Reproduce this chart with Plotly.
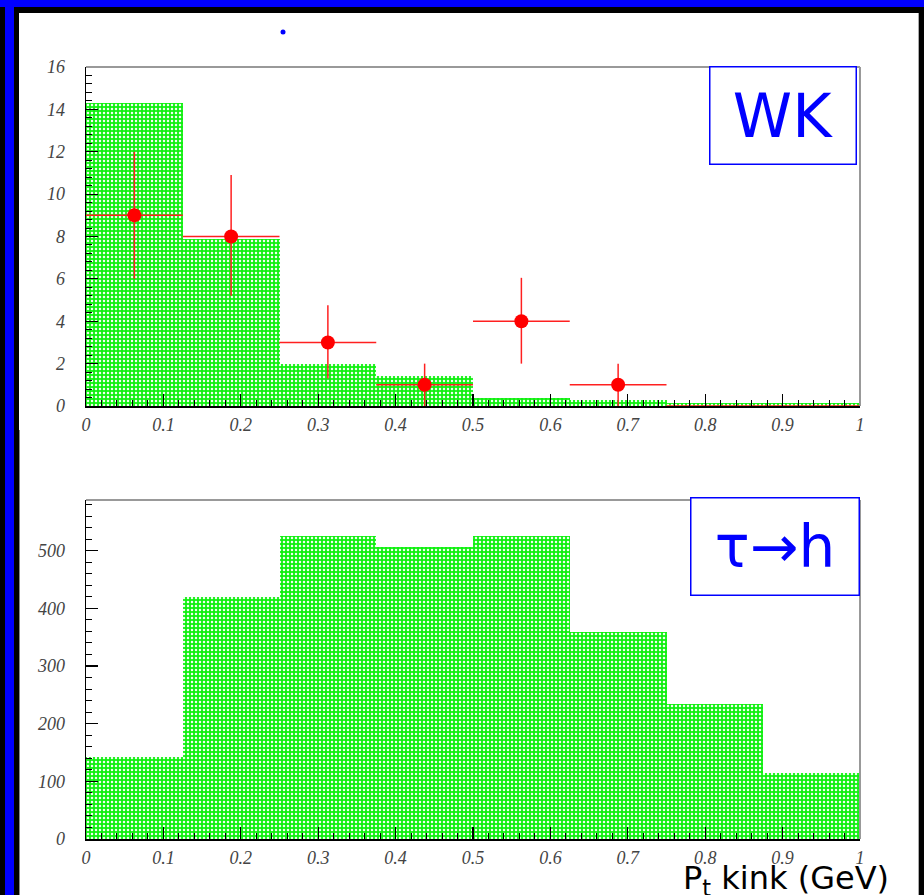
import plotly.graph_objects as go

W, H = 924, 895

# ---------------- data ----------------
bin_centers = [0.0625, 0.1875, 0.3125, 0.4375, 0.5625, 0.6875, 0.8125, 0.9375]
bin_width = 0.125

wk_mc = [14.3, 7.9, 2.0, 1.4, 0.4, 0.3, 0.15, 0.15]
wk_data = [9, 8, 3, 1, 4, 1, 0, 0]
wk_err_up = [3.0, 2.9, 1.75, 1.0, 2.05, 1.0, 0, 0]
wk_err_dn = [3.0, 2.8, 1.7, 1.0, 2.0, 1.0, 0, 0]
wk_marker = [14, 14, 14, 14, 14, 14, 0, 0]

tauh_mc = [143, 419, 526, 506, 526, 359, 234, 114]

x_ticks = [0, 0.1, 0.2, 0.3, 0.4, 0.5, 0.6, 0.7, 0.8, 0.9, 1]
x_tick_text = ["0", "0.1", "0.2", "0.3", "0.4", "0.5", "0.6", "0.7", "0.8", "0.9", "1"]
top_y_ticks = [0, 2, 4, 6, 8, 10, 12, 14, 16]
bot_y_ticks = [0, 100, 200, 300, 400, 500]

GREEN = "#10f010"


def px(x):
    return x / W


def py(y):
    return 1 - y / H


fig = go.Figure()

pattern = dict(shape=".", fgcolor="#f0fff0", bgcolor=GREEN, size=4, solidity=0.3)

fig.add_trace(go.Bar(x=bin_centers, y=wk_mc, width=[bin_width] * 8,
                     marker=dict(color=GREEN, line=dict(width=0), pattern=pattern),
                     xaxis="x", yaxis="y", showlegend=False))
fig.add_trace(go.Scatter(x=bin_centers, y=wk_data, mode="markers", opacity=1,
                         marker=dict(color="#ff0000", size=wk_marker, opacity=1, line=dict(width=0)),
                         error_y=dict(type="data", array=wk_err_up, arrayminus=wk_err_dn,
                                      color="#ff2020", thickness=1.5, width=0),
                         error_x=dict(type="constant", value=bin_width / 2,
                                      color="#ff2020", thickness=1.5, width=0),
                         xaxis="x", yaxis="y", showlegend=False, cliponaxis=False))
fig.add_trace(go.Bar(x=bin_centers, y=tauh_mc, width=[bin_width] * 8,
                     marker=dict(color=GREEN, line=dict(width=0), pattern=pattern),
                     xaxis="x2", yaxis="y2", showlegend=False))

xdom = [px(86), px(860)]
tickfont = dict(family="Liberation Serif", size=18, color="#444444", style="italic")

common_x = dict(range=[0, 1], domain=xdom, tickmode="array", tickvals=x_ticks, ticktext=x_tick_text,
                ticks="inside", ticklen=12, tickwidth=1.2, tickcolor="black",
                minor=dict(ticks="inside", ticklen=6, dtick=0.02, tickcolor="black", tickwidth=1),
                showline=True, linecolor="black", linewidth=1.5, showgrid=False, zeroline=False,
                tickfont=tickfont, ticklabelstandoff=2, fixedrange=True, automargin=False)

fig.update_layout(
    template="none",
    width=W, height=H, autosize=False,
    margin=dict(l=0, r=0, t=0, b=0, pad=0),
    paper_bgcolor="black", plot_bgcolor="white",
    bargap=0,
    xaxis=dict(common_x, anchor="y"),
    yaxis=dict(range=[0, 16], domain=[py(406), py(67)], anchor="x",
               tickmode="array", tickvals=top_y_ticks,
               ticks="inside", ticklen=12, tickwidth=1.2, tickcolor="black",
               minor=dict(ticks="inside", ticklen=6, dtick=0.4, tickcolor="black", tickwidth=1),
               showline=True, linecolor="black", linewidth=1.5, showgrid=False, zeroline=False,
               tickfont=tickfont, ticklabelstandoff=16, fixedrange=True, automargin=False),
    xaxis2=dict(common_x, anchor="y2"),
    yaxis2=dict(range=[0, 588], domain=[py(839), py(500)], anchor="x2",
                tickmode="array", tickvals=bot_y_ticks,
                ticks="inside", ticklen=12, tickwidth=1.2, tickcolor="black",
                minor=dict(ticks="inside", ticklen=6, dtick=20, tickcolor="black", tickwidth=1),
                showline=True, linecolor="black", linewidth=1.5, showgrid=False, zeroline=False,
                tickfont=tickfont, ticklabelstandoff=16, fixedrange=True, automargin=False),
)

shapes = [
    # white page
    dict(type="rect", xref="paper", yref="paper", x0=px(19), x1=px(919), y0=py(13), y1=-0.01,
         fillcolor="white", line=dict(width=0), layer="below"),
    # blue bands
    dict(type="rect", xref="paper", yref="paper", x0=0, x1=1, y0=py(7), y1=1,
         fillcolor="#0000ff", line=dict(width=0), layer="below"),
    dict(type="rect", xref="paper", yref="paper", x0=px(5), x1=px(14), y0=-0.01, y1=1,
         fillcolor="#0000ff", line=dict(width=0), layer="below"),
    # gray page edges
    dict(type="line", xref="paper", yref="paper", x0=px(19.5), x1=px(19.5), y0=py(430), y1=-0.01,
         line=dict(color="#888888", width=1)),
    dict(type="line", xref="paper", yref="paper", x0=px(918.5), x1=px(918.5), y0=py(13), y1=-0.01,
         line=dict(color="#aaaaaa", width=1)),
    # frames (top/right gray)
    dict(type="line", xref="x domain", yref="y domain", x0=0, x1=1, y0=1, y1=1,
         line=dict(color="#999999", width=2)),
    dict(type="line", xref="x domain", yref="y domain", x0=1, x1=1, y0=0, y1=1,
         line=dict(color="#999999", width=2)),
    dict(type="line", xref="x2 domain", yref="y2 domain", x0=0, x1=1, y0=1, y1=1,
         line=dict(color="#999999", width=2)),
    dict(type="line", xref="x2 domain", yref="y2 domain", x0=1, x1=1, y0=0, y1=1,
         line=dict(color="#999999", width=2)),
    # small blue dot
    dict(type="circle", xref="paper", yref="paper", x0=px(280.5), x1=px(285.5), y0=py(34.5), y1=py(29.5),
         fillcolor="#0000ff", line=dict(width=0)),
]
fig.update_layout(shapes=shapes)

annotations = [
    dict(text="WK", xref="paper", yref="paper", x=px(857), y=py(66), xanchor="right", yanchor="top",
         showarrow=False, font=dict(family="DejaVu Sans", size=60, color="#0000ff"),
         bgcolor="white", bordercolor="#0000ff", borderwidth=1.5, borderpad=0,
         width=145, height=96, align="center", valign="middle"),
    dict(text="τ→h", xref="paper", yref="paper", x=px(860), y=py(497), xanchor="right", yanchor="top",
         showarrow=False, font=dict(family="DejaVu Sans", size=58, color="#0000ff"),
         bgcolor="white", bordercolor="#0000ff", borderwidth=1.5, borderpad=0,
         width=167, height=96, align="center", valign="middle"),
    dict(text="P<sub>t</sub> kink (GeV)", xref="paper", yref="paper", x=px(681), y=py(857),
         xanchor="left", yanchor="top", showarrow=False,
         font=dict(family="DejaVu Sans", size=32, color="black")),
]
fig.update_layout(annotations=annotations)

fig.write_html("out.html", config=dict(displayModeBar=False, staticPlot=True),
               post_script="document.body.style.margin='0';document.body.style.padding='0';"
                           "document.documentElement.style.overflow='hidden';")
